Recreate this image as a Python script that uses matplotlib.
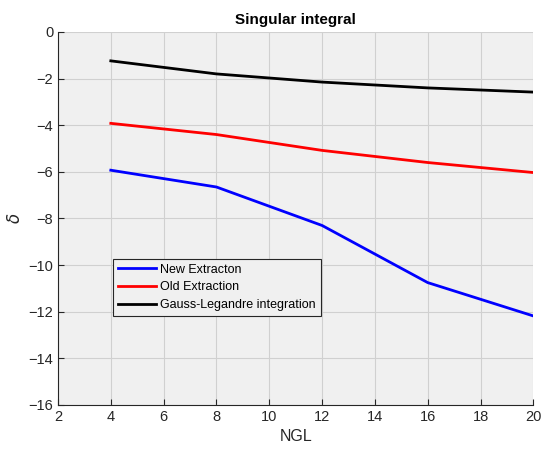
import matplotlib
matplotlib.use("Agg")
import matplotlib.pyplot as plt

ngl = [4, 8, 12, 16, 20]
new_extraction = [-5.93, -6.65, -8.3, -10.75, -12.18]
old_extraction = [-3.92, -4.4, -5.08, -5.6, -6.03]
gauss_legendre = [-1.24, -1.8, -2.15, -2.4, -2.58]

labels = ["New Extracton", "Old Extraction", "Gauss-Legandre integration"]

plt.rcParams["font.family"] = ["Liberation Sans", "DejaVu Sans"]

fig = plt.figure(figsize=(5.42, 4.5), dpi=100)
ax = fig.add_axes([0.107, 0.1, 0.877, 0.829])
ax.set_facecolor("#f0f0f0")

ax.plot(ngl, new_extraction, color="#0000ff", lw=2, label=labels[0])
ax.plot(ngl, old_extraction, color="#ff0000", lw=2, label=labels[1])
ax.plot(ngl, gauss_legendre, color="black", lw=2, label=labels[2])

ax.set_xlim(2, 20)
ax.set_ylim(-16, 0)
ax.set_xticks(range(2, 21, 2))
ax.set_yticks(range(-16, 1, 2))
ax.grid(True, color="#d0d0d0", lw=0.8)
ax.set_axisbelow(True)
ax.tick_params(direction="in", length=4, labelsize=10.5, colors="#262626")
for s in ["top", "right"]:
    ax.spines[s].set_visible(False)
for s in ["left", "bottom"]:
    ax.spines[s].set_color("#262626")

ax.set_title("Singular integral", fontsize=11, fontweight="bold")
ax.set_xlabel("NGL", fontsize=11.5, color="#262626")
ax.set_ylabel(r"$\delta$", fontsize=12, color="#262626")

leg = ax.legend(loc="upper left", bbox_to_anchor=(0.115, 0.392), fontsize=9,
                frameon=True, fancybox=False, edgecolor="#262626",
                facecolor="#f0f0f0", framealpha=1, handlelength=3.1,
                handletextpad=0.3, labelspacing=0.45, borderpad=0.4,
                borderaxespad=0)
leg.get_frame().set_linewidth(0.8)

fig.savefig("out.png", dpi=100)
